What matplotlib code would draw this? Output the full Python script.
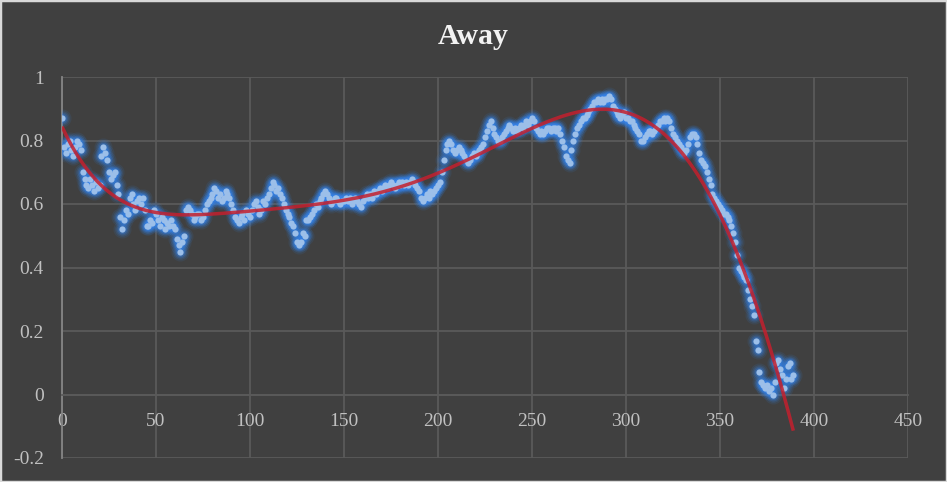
import numpy as np
import matplotlib
matplotlib.use("Agg")
import matplotlib.pyplot as plt
from matplotlib.patches import Rectangle

plt.rcParams['axes.unicode_minus'] = False

title = "Away"

away_values = [
    0.87, 0.78, 0.76, 0.79, 0.80, 0.77, 0.75, 0.78, 0.80, 0.79,
    0.77, 0.70, 0.68, 0.66, 0.65, 0.68, 0.66, 0.64, 0.67, 0.65,
    0.66, 0.75, 0.78, 0.76, 0.74, 0.70, 0.68, 0.69, 0.70, 0.66,
    0.63, 0.56, 0.52, 0.55, 0.58, 0.57, 0.62, 0.63, 0.60, 0.58,
    0.61, 0.62, 0.60, 0.62, 0.58, 0.53, 0.53, 0.55, 0.54, 0.58,
    0.57, 0.55, 0.53, 0.56, 0.55, 0.52, 0.54, 0.53, 0.55, 0.53,
    0.52, 0.49, 0.47, 0.45, 0.48, 0.50, 0.58, 0.59, 0.58, 0.57,
    0.55, 0.56, 0.57, 0.57, 0.55, 0.56, 0.58, 0.60, 0.61, 0.62,
    0.63, 0.65, 0.64, 0.62, 0.63, 0.61, 0.62, 0.64, 0.63, 0.62,
    0.60, 0.58, 0.56, 0.55, 0.54, 0.56, 0.57, 0.55, 0.58, 0.57,
    0.56, 0.58, 0.60, 0.61, 0.59, 0.57, 0.58, 0.61, 0.60, 0.62,
    0.63, 0.65, 0.67, 0.66, 0.64, 0.65, 0.63, 0.62, 0.60, 0.58,
    0.57, 0.56, 0.54, 0.53, 0.51, 0.48, 0.47, 0.48, 0.51, 0.50,
    0.55, 0.55, 0.56, 0.57, 0.58, 0.60, 0.59, 0.61, 0.62, 0.63,
    0.64, 0.63, 0.62, 0.60, 0.61, 0.62, 0.62, 0.61, 0.60, 0.61,
    0.61, 0.62, 0.61, 0.62, 0.60, 0.61, 0.62, 0.61, 0.60, 0.59,
    0.61, 0.62, 0.63, 0.62, 0.63, 0.62, 0.64, 0.63, 0.64, 0.65,
    0.64, 0.65, 0.66, 0.65, 0.66, 0.67, 0.66, 0.65, 0.66, 0.67,
    0.66, 0.67, 0.66, 0.67, 0.66, 0.67, 0.68, 0.67, 0.66, 0.65,
    0.64, 0.62, 0.61, 0.62, 0.63, 0.62, 0.64, 0.63, 0.64, 0.65,
    0.66, 0.67, 0.70, 0.74, 0.77, 0.79, 0.80, 0.79, 0.77, 0.76,
    0.77, 0.78, 0.77, 0.76, 0.75, 0.74, 0.73, 0.74, 0.75, 0.76,
    0.75, 0.76, 0.77, 0.78, 0.79, 0.81, 0.83, 0.85, 0.86, 0.84,
    0.82, 0.81, 0.80, 0.80, 0.81, 0.82, 0.83, 0.84, 0.85, 0.84,
    0.83, 0.84, 0.83, 0.84, 0.85, 0.84, 0.85, 0.86, 0.85, 0.86,
    0.87, 0.86, 0.84, 0.83, 0.82, 0.83, 0.82, 0.83, 0.84, 0.84,
    0.83, 0.84, 0.84, 0.83, 0.84, 0.82, 0.80, 0.78, 0.75, 0.74,
    0.73, 0.77, 0.80, 0.82, 0.84, 0.85, 0.86, 0.87, 0.87, 0.88,
    0.89, 0.90, 0.91, 0.92, 0.92, 0.93, 0.92, 0.93, 0.92, 0.93,
    0.93, 0.94, 0.93, 0.91, 0.90, 0.89, 0.88, 0.87, 0.88, 0.89,
    0.87, 0.87, 0.86, 0.86, 0.85, 0.84, 0.83, 0.82, 0.80, 0.80,
    0.81, 0.82, 0.83, 0.83, 0.82, 0.83, 0.84, 0.85, 0.86, 0.86,
    0.87, 0.86, 0.87, 0.86, 0.84, 0.82, 0.81, 0.80, 0.79, 0.78,
    0.77, 0.76, 0.77, 0.79, 0.81, 0.82, 0.82, 0.81, 0.79, 0.76,
    0.74, 0.73, 0.72, 0.70, 0.68, 0.66, 0.63, 0.62, 0.61, 0.60,
    0.59, 0.58, 0.57, 0.57, 0.56, 0.55, 0.53, 0.51, 0.48, 0.44,
    0.40, 0.39, 0.38, 0.37, 0.36, 0.33, 0.30, 0.28, 0.25, 0.17,
    0.14, 0.07, 0.04, 0.03, 0.02, 0.03, 0.01, 0.02, 0.00, 0.04,
    0.10, 0.11, 0.08, 0.06, 0.02, 0.05, 0.09, 0.10, 0.05, 0.06,
]
x_values = np.arange(len(away_values))

x_ticks = [0, 50, 100, 150, 200, 250, 300, 350, 400, 450]
y_ticks = [-0.2, 0, 0.2, 0.4, 0.6, 0.8, 1]
y_tick_labels = ["-0.2", "0", "0.2", "0.4", "0.6", "0.8", "1"]
trend_degree = 6

BG = '#404040'
GRID = '#5a5a5a'
TXT = '#c0c0c0'

fig = plt.figure(figsize=(9.47, 4.82), dpi=100, facecolor=BG)
ax = fig.add_axes([62 / 947, 24 / 482, 846 / 947, 381 / 482])
ax.set_facecolor(BG)
ax.set_xlim(0, 450)
ax.set_ylim(-0.2, 1)
ax.set_xticks(x_ticks)
ax.set_xticklabels([str(t) for t in x_ticks])
ax.set_yticks(y_ticks)
ax.set_yticklabels(y_tick_labels)
ax.grid(True, color=GRID, lw=1.3, zorder=0)
ax.set_axisbelow(True)
for s in ['top', 'right']:
    ax.spines[s].set_visible(False)
ax.spines['left'].set_color('#858585')
ax.spines['left'].set_linewidth(1.3)
ax.spines['bottom'].set_position(('data', 0))
ax.spines['bottom'].set_color(GRID)
ax.spines['bottom'].set_linewidth(1.3)
ax.tick_params(axis='both', length=0, colors=TXT, labelsize=14)
ax.tick_params(axis='x', pad=13)
ax.tick_params(axis='y', pad=13)
for lab in ax.get_xticklabels() + ax.get_yticklabels():
    lab.set_fontfamily('Liberation Serif')

# glow layers
for size, alpha in [(13, 0.10), (10.5, 0.14), (8.5, 0.20), (6.5, 0.30)]:
    ax.plot(x_values, away_values, linestyle='none', marker='o', markersize=size,
            markerfacecolor='#3485ee', markeredgewidth=0, alpha=alpha, zorder=3)
ax.plot(x_values, away_values, linestyle='none', marker='o', markersize=4.5,
        markerfacecolor='#9cbfe9', markeredgewidth=0, zorder=4)

coef = np.polyfit(x_values, away_values, trend_degree)
xt = np.linspace(x_values[0], x_values[-1], 400)
ax.plot(xt, np.polyval(coef, xt), color='#c4202e', lw=2.5, alpha=0.85, zorder=5,
        solid_capstyle='butt')

fig.text(473 / 947, 1 - 37 / 482, title, ha='center', va='center',
         fontsize=21.5, fontweight='bold', color='#f2f2f2', family='Liberation Serif')

fig.patches.append(Rectangle((0, 0), 1, 1, transform=fig.transFigure, fill=False,
                             edgecolor='#d9d9d9', lw=2.5))

fig.savefig('out.png', dpi=100, facecolor=BG)
